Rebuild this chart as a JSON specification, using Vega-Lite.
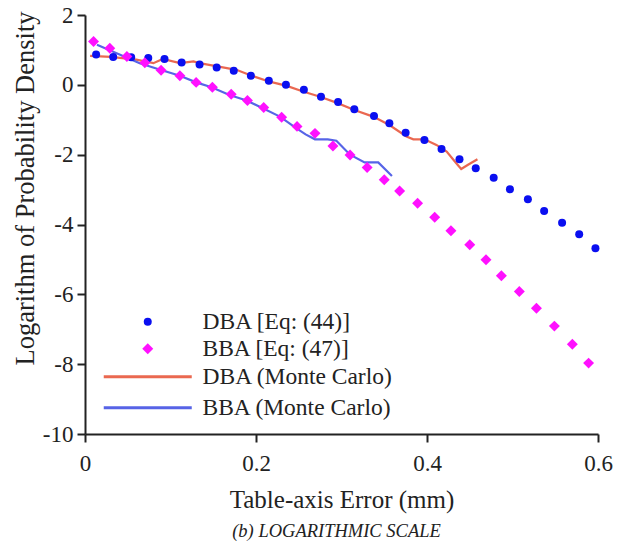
{
  "$schema": "https://vega.github.io/schema/vega-lite/v6.json",
  "width": 513,
  "height": 419,
  "autosize": {"type": "none"},
  "padding": {"left": 85, "top": 15, "right": 25, "bottom": 112},
  "background": "white",
  "title": {
    "text": "(b) LOGARITHMIC SCALE",
    "orient": "bottom",
    "font": "Liberation Serif",
    "fontSize": 18.5,
    "fontStyle": "italic",
    "fontWeight": "normal",
    "color": "#222222",
    "offset": 10,
    "dx": -5
  },
  "config": {
    "view": {"stroke": null},
    "axis": {
      "grid": false,
      "domainColor": "#222222",
      "domainWidth": 2,
      "tickColor": "#222222",
      "tickWidth": 2,
      "tickSize": 8,
      "labelFont": "Liberation Serif",
      "labelFontSize": 23,
      "labelColor": "#222222",
      "titleFont": "Liberation Serif",
      "titleFontSize": 25,
      "titleFontWeight": "normal",
      "titleColor": "#222222"
    },
    "legend": {
      "title": null,
      "orient": "none",
      "padding": 0,
      "labelFont": "Liberation Serif",
      "labelFontSize": 23.5,
      "labelColor": "#222222",
      "labelLimit": 400,
      "symbolSize": 64
    }
  },
  "datasets": {
    "eq": [
      {"series": "DBA [Eq: (44)]", "x": 0.013, "y": 0.87},
      {"series": "DBA [Eq: (44)]", "x": 0.033, "y": 0.80},
      {"series": "DBA [Eq: (44)]", "x": 0.054, "y": 0.79},
      {"series": "DBA [Eq: (44)]", "x": 0.074, "y": 0.77},
      {"series": "DBA [Eq: (44)]", "x": 0.093, "y": 0.74},
      {"series": "DBA [Eq: (44)]", "x": 0.113, "y": 0.64},
      {"series": "DBA [Eq: (44)]", "x": 0.134, "y": 0.58},
      {"series": "DBA [Eq: (44)]", "x": 0.154, "y": 0.50},
      {"series": "DBA [Eq: (44)]", "x": 0.174, "y": 0.40},
      {"series": "DBA [Eq: (44)]", "x": 0.194, "y": 0.26},
      {"series": "DBA [Eq: (44)]", "x": 0.215, "y": 0.12},
      {"series": "DBA [Eq: (44)]", "x": 0.235, "y": 0.00},
      {"series": "DBA [Eq: (44)]", "x": 0.256, "y": -0.14},
      {"series": "DBA [Eq: (44)]", "x": 0.276, "y": -0.34},
      {"series": "DBA [Eq: (44)]", "x": 0.296, "y": -0.49},
      {"series": "DBA [Eq: (44)]", "x": 0.315, "y": -0.70},
      {"series": "DBA [Eq: (44)]", "x": 0.338, "y": -0.89},
      {"series": "DBA [Eq: (44)]", "x": 0.356, "y": -1.10},
      {"series": "DBA [Eq: (44)]", "x": 0.375, "y": -1.37},
      {"series": "DBA [Eq: (44)]", "x": 0.397, "y": -1.58},
      {"series": "DBA [Eq: (44)]", "x": 0.417, "y": -1.84},
      {"series": "DBA [Eq: (44)]", "x": 0.438, "y": -2.13},
      {"series": "DBA [Eq: (44)]", "x": 0.457, "y": -2.39},
      {"series": "DBA [Eq: (44)]", "x": 0.478, "y": -2.66},
      {"series": "DBA [Eq: (44)]", "x": 0.497, "y": -2.99},
      {"series": "DBA [Eq: (44)]", "x": 0.518, "y": -3.28},
      {"series": "DBA [Eq: (44)]", "x": 0.537, "y": -3.61},
      {"series": "DBA [Eq: (44)]", "x": 0.558, "y": -3.95},
      {"series": "DBA [Eq: (44)]", "x": 0.578, "y": -4.28},
      {"series": "DBA [Eq: (44)]", "x": 0.597, "y": -4.68},
      {"series": "BBA [Eq: (47)]", "x": 0.010, "y": 1.24},
      {"series": "BBA [Eq: (47)]", "x": 0.029, "y": 1.05},
      {"series": "BBA [Eq: (47)]", "x": 0.049, "y": 0.81},
      {"series": "BBA [Eq: (47)]", "x": 0.070, "y": 0.63},
      {"series": "BBA [Eq: (47)]", "x": 0.089, "y": 0.42},
      {"series": "BBA [Eq: (47)]", "x": 0.111, "y": 0.26},
      {"series": "BBA [Eq: (47)]", "x": 0.130, "y": 0.07},
      {"series": "BBA [Eq: (47)]", "x": 0.149, "y": -0.07},
      {"series": "BBA [Eq: (47)]", "x": 0.171, "y": -0.27},
      {"series": "BBA [Eq: (47)]", "x": 0.190, "y": -0.45},
      {"series": "BBA [Eq: (47)]", "x": 0.209, "y": -0.65},
      {"series": "BBA [Eq: (47)]", "x": 0.230, "y": -0.93},
      {"series": "BBA [Eq: (47)]", "x": 0.248, "y": -1.19},
      {"series": "BBA [Eq: (47)]", "x": 0.269, "y": -1.39},
      {"series": "BBA [Eq: (47)]", "x": 0.290, "y": -1.75},
      {"series": "BBA [Eq: (47)]", "x": 0.310, "y": -2.01},
      {"series": "BBA [Eq: (47)]", "x": 0.330, "y": -2.37},
      {"series": "BBA [Eq: (47)]", "x": 0.350, "y": -2.72},
      {"series": "BBA [Eq: (47)]", "x": 0.368, "y": -3.04},
      {"series": "BBA [Eq: (47)]", "x": 0.389, "y": -3.39},
      {"series": "BBA [Eq: (47)]", "x": 0.409, "y": -3.79},
      {"series": "BBA [Eq: (47)]", "x": 0.428, "y": -4.18},
      {"series": "BBA [Eq: (47)]", "x": 0.450, "y": -4.58},
      {"series": "BBA [Eq: (47)]", "x": 0.469, "y": -5.01},
      {"series": "BBA [Eq: (47)]", "x": 0.487, "y": -5.47},
      {"series": "BBA [Eq: (47)]", "x": 0.508, "y": -5.92},
      {"series": "BBA [Eq: (47)]", "x": 0.528, "y": -6.40},
      {"series": "BBA [Eq: (47)]", "x": 0.549, "y": -6.91},
      {"series": "BBA [Eq: (47)]", "x": 0.570, "y": -7.43},
      {"series": "BBA [Eq: (47)]", "x": 0.589, "y": -7.97}
    ],
    "mc": [
      {"series": "DBA (Monte Carlo)", "x": 0.006, "y": 0.83},
      {"series": "DBA (Monte Carlo)", "x": 0.030, "y": 0.80},
      {"series": "DBA (Monte Carlo)", "x": 0.060, "y": 0.72},
      {"series": "DBA (Monte Carlo)", "x": 0.080, "y": 0.62},
      {"series": "DBA (Monte Carlo)", "x": 0.091, "y": 0.74},
      {"series": "DBA (Monte Carlo)", "x": 0.111, "y": 0.62},
      {"series": "DBA (Monte Carlo)", "x": 0.127, "y": 0.67},
      {"series": "DBA (Monte Carlo)", "x": 0.134, "y": 0.62},
      {"series": "DBA (Monte Carlo)", "x": 0.150, "y": 0.55},
      {"series": "DBA (Monte Carlo)", "x": 0.166, "y": 0.48},
      {"series": "DBA (Monte Carlo)", "x": 0.177, "y": 0.43},
      {"series": "DBA (Monte Carlo)", "x": 0.195, "y": 0.26},
      {"series": "DBA (Monte Carlo)", "x": 0.216, "y": 0.09},
      {"series": "DBA (Monte Carlo)", "x": 0.236, "y": -0.03},
      {"series": "DBA (Monte Carlo)", "x": 0.255, "y": -0.19},
      {"series": "DBA (Monte Carlo)", "x": 0.275, "y": -0.34},
      {"series": "DBA (Monte Carlo)", "x": 0.294, "y": -0.51},
      {"series": "DBA (Monte Carlo)", "x": 0.315, "y": -0.72},
      {"series": "DBA (Monte Carlo)", "x": 0.337, "y": -0.91},
      {"series": "DBA (Monte Carlo)", "x": 0.356, "y": -1.15},
      {"series": "DBA (Monte Carlo)", "x": 0.376, "y": -1.48},
      {"series": "DBA (Monte Carlo)", "x": 0.384, "y": -1.56},
      {"series": "DBA (Monte Carlo)", "x": 0.397, "y": -1.56},
      {"series": "DBA (Monte Carlo)", "x": 0.411, "y": -1.72},
      {"series": "DBA (Monte Carlo)", "x": 0.423, "y": -1.91},
      {"series": "DBA (Monte Carlo)", "x": 0.434, "y": -2.24},
      {"series": "DBA (Monte Carlo)", "x": 0.440, "y": -2.41},
      {"series": "DBA (Monte Carlo)", "x": 0.448, "y": -2.29},
      {"series": "DBA (Monte Carlo)", "x": 0.459, "y": -2.13},
      {"series": "BBA (Monte Carlo)", "x": 0.014, "y": 1.15},
      {"series": "BBA (Monte Carlo)", "x": 0.064, "y": 0.62},
      {"series": "BBA (Monte Carlo)", "x": 0.088, "y": 0.43},
      {"series": "BBA (Monte Carlo)", "x": 0.111, "y": 0.26},
      {"series": "BBA (Monte Carlo)", "x": 0.130, "y": 0.07},
      {"series": "BBA (Monte Carlo)", "x": 0.148, "y": -0.07},
      {"series": "BBA (Monte Carlo)", "x": 0.169, "y": -0.29},
      {"series": "BBA (Monte Carlo)", "x": 0.189, "y": -0.45},
      {"series": "BBA (Monte Carlo)", "x": 0.208, "y": -0.67},
      {"series": "BBA (Monte Carlo)", "x": 0.228, "y": -0.91},
      {"series": "BBA (Monte Carlo)", "x": 0.247, "y": -1.24},
      {"series": "BBA (Monte Carlo)", "x": 0.258, "y": -1.42},
      {"series": "BBA (Monte Carlo)", "x": 0.269, "y": -1.56},
      {"series": "BBA (Monte Carlo)", "x": 0.284, "y": -1.56},
      {"series": "BBA (Monte Carlo)", "x": 0.294, "y": -1.60},
      {"series": "BBA (Monte Carlo)", "x": 0.310, "y": -2.00},
      {"series": "BBA (Monte Carlo)", "x": 0.327, "y": -2.22},
      {"series": "BBA (Monte Carlo)", "x": 0.343, "y": -2.22},
      {"series": "BBA (Monte Carlo)", "x": 0.359, "y": -2.61}
    ]
  },
  "encoding": {
    "x": {
      "field": "x",
      "type": "quantitative",
      "scale": {"domain": [0, 0.6], "nice": false, "zero": false},
      "axis": {
        "title": "Table-axis Error (mm)",
        "values": [0, 0.2, 0.4, 0.6],
        "labelExpr": "datum.value == 0 ? '0' : format(datum.value, '.1f')",
        "labelBaseline": "alphabetic",
        "labelPadding": 28,
        "labelFlush": false,
        "labelOverlap": false,
        "titleBaseline": "alphabetic",
        "titleY": 73
      }
    },
    "y": {
      "field": "y",
      "type": "quantitative",
      "scale": {"domain": [-10, 2], "nice": false, "zero": false},
      "axis": {
        "title": "Logarithm of Probability Density",
        "values": [-10, -8, -6, -4, -2, 0, 2],
        "labelExpr": "datum.value + ''",
        "labelPadding": 4,
        "labelFlush": false,
        "labelOverlap": false,
        "titleFontSize": 26.5,
        "titleBaseline": "alphabetic",
        "titleX": -52,
        "titleY": 173,
        "titleAngle": -90
      }
    }
  },
  "layer": [
    {
      "data": {"name": "mc"},
      "mark": {"type": "line", "strokeWidth": 2.2, "opacity": 0.9},
      "encoding": {
        "stroke": {
          "field": "series",
          "type": "nominal",
          "scale": {
            "domain": ["DBA (Monte Carlo)", "BBA (Monte Carlo)"],
            "range": ["#e8583e", "#4553e4"]
          },
          "legend": {
            "legendX": 51,
            "legendY": 350,
            "rowPadding": 6,
            "symbolType": "M-11,0H11",
            "symbolStrokeWidth": 2.8,
            "labelOffset": 43
          }
        }
      }
    },
    {
      "data": {"name": "eq"},
      "mark": {"type": "point", "filled": true, "opacity": 1},
      "encoding": {
        "color": {
          "field": "series",
          "type": "nominal",
          "scale": {
            "domain": ["DBA [Eq: (44)]", "BBA [Eq: (47)]"],
            "range": ["#0a0ff0", "#ff10ff"]
          },
          "legend": {
            "legendX": 51,
            "legendY": 295,
            "rowPadding": 2,
            "symbolStrokeWidth": 0,
            "labelOffset": 43
          }
        },
        "shape": {
          "field": "series",
          "type": "nominal",
          "scale": {"domain": ["DBA [Eq: (44)]", "BBA [Eq: (47)]"], "range": ["circle", "diamond"]},
          "legend": {
            "legendX": 51,
            "legendY": 295,
            "rowPadding": 2,
            "symbolStrokeWidth": 0,
            "labelOffset": 43
          }
        },
        "size": {
          "field": "series",
          "type": "nominal",
          "scale": {"domain": ["DBA [Eq: (44)]", "BBA [Eq: (47)]"], "range": [64, 120]},
          "legend": null
        }
      }
    }
  ]
}
